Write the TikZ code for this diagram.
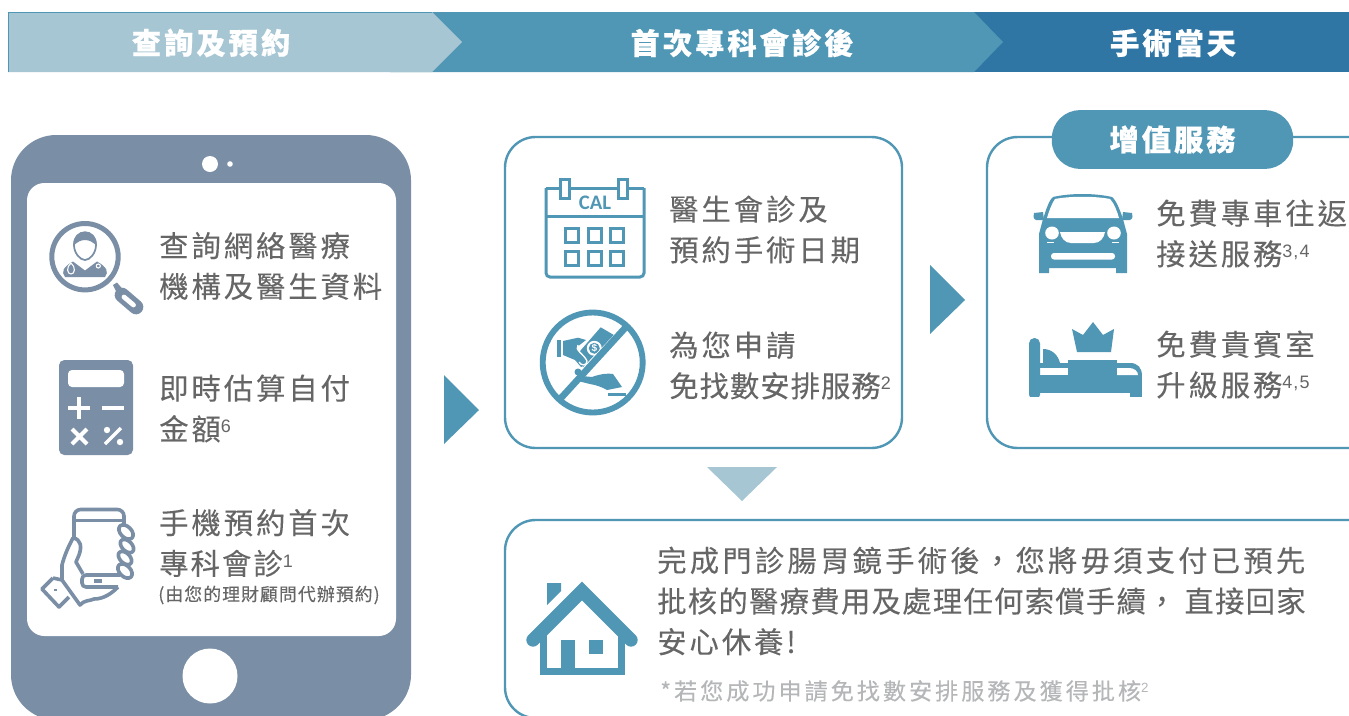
\documentclass[tikz,border=0pt]{standalone}
\usepackage{fontspec}
\setmainfont[LetterSpace=10, FakeBold=0.12]{Noto Sans CJK TC}
\newfontfamily\headcjk[LetterSpace=10, BoldFeatures={FakeBold=0.5}]{Noto Sans CJK TC}
\newfontfamily\smallcjk[LetterSpace=6, FakeBold=0.1]{Noto Sans CJK TC}
\newfontfamily\notecjk[LetterSpace=13.2, FakeBold=0.12]{Noto Sans CJK TC}
\newfontfamily\latinfont[LetterSpace=6]{Liberation Sans}
\newfontfamily\calfont{Carlito}
\definecolor{phoneblue}{HTML}{7A8EA6}
\definecolor{tealblue}{HTML}{5096B5}
\definecolor{paleblue}{HTML}{A7C6D4}
\definecolor{deepblue}{HTML}{2F76A5}
\definecolor{bodygray}{HTML}{666666}
\definecolor{notegray}{HTML}{B4B6B8}
\newcommand{\upnum}[2][13.5]{\raisebox{5.6pt}{\latinfont\fontsize{#1}{#1}\selectfont #2}}
\newcommand{\tightline}{\addfontfeature{LetterSpace=4.4}}
\tikzset{
  bodytext/.style = {anchor = west, inner sep = 0pt, align = left, text = bodygray, font = \fontsize{22}{30.5}\selectfont},
  headtext/.style = {inner sep = 0pt, text = white, font = \headcjk\fontsize{22}{25}\selectfont\bfseries},
  infobox/.style = {draw = tealblue, line width = 1.8pt, rounded corners = 23pt, fill = white},
  tealicon/.style = {draw = tealblue, line width = 2.25pt},
  phoneicon/.style = {draw = phoneblue, line width = 2.7pt, line join = round}
}
\begin{document}
\begin{tikzpicture}[x=0.75pt, y=-0.75pt]
\useasboundingbox (0,0) rectangle (1349,715);
\clip (0,0) rectangle (1349,715);
\fill[white] (0,0) rectangle (1349,715);

\fill[deepblue] (960,12) -- (1349,12) -- (1349,72) -- (960,72) -- cycle;
\fill[tealblue] (390,12) -- (974,12) -- (1003,42) -- (974,72) -- (390,72) -- cycle;
\fill[paleblue] (8,12) -- (432,12) -- (462,42) -- (432,72) -- (8,72) -- cycle;
\draw[tealblue, line width = 0.5pt] (8,72) -- (8,12) -- (432,12);
\node[headtext] (headquery) at (211,43) {查詢及預約};
\node[headtext] (headvisit) at (742,43) {首次專科會診後};
\node[headtext] (headday) at (1173,43) {手術當天};

\fill[phoneblue, rounded corners = 34pt] (11,135) rectangle (411,720);
\fill[white, rounded corners = 13pt] (27,183) rectangle (396,636);
\fill[white] (210,164) circle (8);
\fill[white] (230,164) circle (2.8);
\fill[white] (210,676) circle (27.5);

\draw[phoneicon, line width = 3.75pt] (85,256.7) circle (33.2);
\fill[phoneblue] (65,277) .. controls (61,272) and (63,267) .. (73,261.5) -- (85,270.5) -- (97,261.5) .. controls (107,267) and (109,272) .. (105,277) -- cycle;
\draw[phoneicon, line width = 1.3pt] (74,245) .. controls (74,228) and (96,228) .. (96,245) .. controls (96,253) and (90,260) .. (85,260) .. controls (80,260) and (74,253) .. (74,245) -- cycle;
\fill[phoneblue] (73.5,246) .. controls (72,227) and (98,227) .. (96.5,246) .. controls (90,238) and (80,238) .. (73.5,246) -- cycle;
\draw[white, line width = 0.8pt] (71,263) .. controls (66,267) and (67,274) .. (71,274) .. controls (75,274) and (76,267) .. (71,263);
\draw[white, line width = 0.8pt] (98.3,266) circle (2);
\fill[phoneblue] (113,285) -- (117,282.5) -- (125,292) -- (119,297) -- cycle;
\draw[phoneblue, line width = 11pt, line cap = round] (122,295) -- (136,307);
\draw[white, line width = 3.6pt, line cap = round] (124,297) -- (133.5,305);

\fill[phoneblue, rounded corners = 4pt] (59,360) rectangle (133,455);
\fill[white, rounded corners = 3pt] (68,370) rectangle (124,387);
\draw[white, line width = 3pt] (68,408) -- (90,408) (79,397) -- (79,419) (102,408) -- (124,408);
\draw[white, line width = 3pt] (72,429) -- (87,444) (72,444) -- (87,429);
\draw[white, line width = 2.6pt] (105,444) -- (121,428);
\fill[white] (107,430) circle (3.2) (120,442) circle (3.2);

\draw[phoneicon, rounded corners = 5pt] (74,538) -- (74,509.5) -- (124,509.5) -- (124,526);
\draw[phoneicon] (74,520.5) -- (124,520.5);
\draw[phoneicon, rounded corners = 3pt] (120,575) -- (82,575) -- (82,587) -- (118,587);
\draw[phoneblue, line width = 2.6pt] (94,581) -- (102,581);
\draw[phoneicon, rotate around = {-45:(126,532)}] (126,532) ellipse (8.5 and 5.5);
\draw[phoneicon, rotate around = {-45:(127,546)}] (127,546) ellipse (8 and 5);
\draw[phoneicon, rotate around = {-45:(125,558)}] (125,558) ellipse (8 and 5);
\draw[phoneicon, rotate around = {-45:(125,571)}] (125,571) ellipse (8.5 and 5.5);
\draw[phoneicon, line cap = round] (73,538) .. controls (68,547) and (64,557) .. (62,565) -- (62,580);
\draw[phoneicon] (73,538) .. controls (81,539) and (82,547) .. (79,555) -- (76,562) -- (83,574);
\draw[phoneicon] (53,578) -- (42,589) -- (59,607) -- (69,597);
\draw[phoneicon] (53,578) -- (62,580) -- (80,605) .. controls (84,600) and (90,601) .. (94,599) .. controls (104,599) and (112,593) .. (118,587);
\draw[phoneblue, line width = 1.4pt] (54,590) -- (57,590);

\draw[infobox] (505,137) rectangle (902,448);
\draw[tealicon, rounded corners = 3pt] (546,188) -- (546,277) -- (644,277) -- (644,188);
\draw[tealicon] (546,188) -- (644,188) (546,216) -- (644,216);
\draw[tealicon, fill = white] (560,179) rectangle (569,198);
\draw[tealicon, fill = white] (618,179) rectangle (627,198);
\node[inner sep = 0pt, text = tealblue, font = \calfont\fontsize{15.5}{16}\selectfont\bfseries] (calword) at (595,203) {CAL};
\foreach \gx in {565.5,588,610.5} {
  \foreach \gy in {228.5,251.5} {
    \draw[tealicon] (\gx,\gy) rectangle +(13,13.5);
  }
}

\fill[tealblue] (600.7,327.3) -- (617.7,337.3) -- (589,372) -- (574,358) -- cycle;
\fill[white] (594.3,348.3) circle (7.5);
\fill[tealblue] (594.3,348.3) circle (5.5);
\node[inner sep = 0pt, text = white, font = \latinfont\fontsize{7.5}{8}\selectfont\bfseries] (billsign) at (594.3,348.3) {\$};
\fill[tealblue] (556.7,340) rectangle (561,357);
\fill[tealblue] (563,341) -- (578,337.7) -- (586,340) -- (577,347) -- (582,358) -- (588,364) -- (581,367) -- (575,360) -- (563,355) -- cycle;
\draw[white, line width = 1pt] (578,345) .. controls (574,350) and (584,354) .. (587,361) .. controls (587,366) and (581,366) .. (579,362);
\draw[white, line width = 8pt] (628,328) -- (561,398);
\draw[tealblue, line width = 5pt] (626,327) -- (561,398);
\fill[tealblue] (578,372) circle (3.5);
\fill[tealblue] (592,377) .. controls (600,374) and (608,373) .. (613,374) -- (622,387) -- (607,390) .. controls (602,387) and (596,385) .. (590,384) -- (578,381) -- (582,376) -- cycle;
\fill[tealblue] (608,393) rectangle (625.7,396);
\draw[tealblue, line width = 4.4pt] (592.7,362.5) circle (50);

\node[bodytext] (dateline) at (669,229.5) {醫生會診及\\預約手術日期};
\node[bodytext] (arrangeline) at (669,365.5) {為您申請\\{\addfontfeature{LetterSpace=3.5}免找數安排服務}\upnum{2}};

\draw[infobox] (987,137) rectangle (1390,448);
\node[draw = none, fill = tealblue, rounded corners = 21pt, minimum width = 181pt, minimum height = 44pt, inner sep = 0pt, text = white, font = \headcjk\fontsize{22}{25}\selectfont\bfseries] (addon) at (1172.5,139.5) {增值服務};

\fill[tealblue] (1053,197) .. controls (1070,193) and (1095,193) .. (1112,197) .. controls (1116,200) and (1120,210) .. (1123,219) -- (1127,234) -- (1127,273) -- (1116,273) -- (1116,268) -- (1049,268) -- (1049,273) -- (1039,273) -- (1039,234) -- (1043,219) .. controls (1046,210) and (1049,200) .. (1053,197) -- cycle;
\fill[white] (1055,199) .. controls (1070,196) and (1095,196) .. (1110,199) .. controls (1114,203) and (1117,211) .. (1119,218) -- (1047,218) .. controls (1049,211) and (1052,203) .. (1055,199) -- cycle;
\fill[tealblue] (1034,213) -- (1043,212) -- (1044,220) -- (1036,220) .. controls (1033,219) and (1033,215) .. (1034,213) -- cycle;
\fill[tealblue] (1132,213) -- (1123,212) -- (1122,220) -- (1130,220) .. controls (1133,219) and (1133,215) .. (1132,213) -- cycle;
\fill[white] (1052,233) ellipse (6.8 and 6.5);
\fill[white] (1114,233) ellipse (6.8 and 6.5);
\fill[white] (1060,232) -- (1105,232) .. controls (1104,238) and (1100,243) .. (1094,243) -- (1071,243) .. controls (1065,243) and (1061,238) .. (1060,232) -- cycle;
\fill[white] (1047,241.5) rectangle (1054,243);
\fill[white] (1112,241.5) rectangle (1119,243);
\fill[white, rounded corners = 2.2pt] (1051,253) rectangle (1115,259.5);

\fill[tealblue] (1072,329) -- (1083,335) -- (1093,322) -- (1103,335) -- (1114,329) -- (1111,352) -- (1077,352) -- cycle;
\fill[tealblue, rounded corners = 4pt] (1029,400) -- (1029,338) -- (1040,338) -- (1040,400) -- cycle;
\fill[white] (1029,397) rectangle (1040,402);
\fill[tealblue] (1029,375) rectangle (1142,393);
\fill[tealblue] (1130,390) rectangle (1142,397);
\fill[tealblue] (1043,349) .. controls (1052,349) and (1058,355) .. (1060,363) -- (1043,363) -- cycle;
\fill[tealblue] (1040,363) rectangle (1068,368);
\fill[tealblue] (1068,360) rectangle (1117,376);
\fill[tealblue] (1117,363) -- (1130,363) .. controls (1138,363) and (1142,368) .. (1142,376) -- (1117,376) -- cycle;
\fill[white] (1117,368) -- (1129,368) .. controls (1134,368) and (1138,371) .. (1138,375) -- (1117,375) -- cycle;

\node[bodytext] (carline) at (1156,233.5) {免費專車往返\\接送服務\upnum{3,4}};
\node[bodytext] (bedline) at (1156,364.5) {免費貴賓室\\升級服務\upnum{4,5}};

\draw[infobox] (505,520) rectangle (1390,718);
\fill[tealblue] (547,583) -- (561,583) -- (561,591) -- (547,605) -- cycle;
\draw[tealblue, line width = 10pt, line cap = round, line join = miter] (533,640) -- (582,591) -- (631,640);
\draw[tealblue, line width = 5pt] (543.5,628) -- (543.5,671.5) -- (621.5,671.5) -- (621.5,628);
\fill[tealblue] (561,640) rectangle (575,670);
\fill[tealblue] (589,640) rectangle (603,654);

\node[bodytext] (finishline) at (657,601) {{\addfontfeature{LetterSpace=11}完成門診腸胃鏡手術後，您將毋須支付已預先}\\{\tightline 批核的醫療費用及處理任何索償手續， 直接回家}\\安心休養!};
\node[anchor = west, inner sep = 0pt, text = notegray, font = \notecjk\fontsize{17.3}{20}\selectfont] (noteline) at (660,691) {*若您成功申請免找數安排服務及獲得批核\upnum[10]{2}};

\node[bodytext] (queryline) at (159,266) {查詢網絡醫療\\機構及醫生資料};
\node[bodytext] (feeline) at (159,408.5) {即時估算自付\\金額\upnum{6}};
\node[bodytext] (bookline) at (159,543) {手機預約首次\\{\addfontfeature{LetterSpace=7}專科會診}\upnum{1}};
\node[anchor = west, inner sep = 0pt, text = bodygray, font = \smallcjk\fontsize{13.4}{16}\selectfont] (agentline) at (158,595) {(由您的理財顧問代辦預約)};

\fill[tealblue] (444,375) -- (479,410) -- (444,444) -- cycle;
\fill[tealblue] (930,265) -- (965,300) -- (930,334) -- cycle;
\fill[paleblue] (707,467) -- (777,467) -- (742,501) -- cycle;
\end{tikzpicture}
\end{document}
